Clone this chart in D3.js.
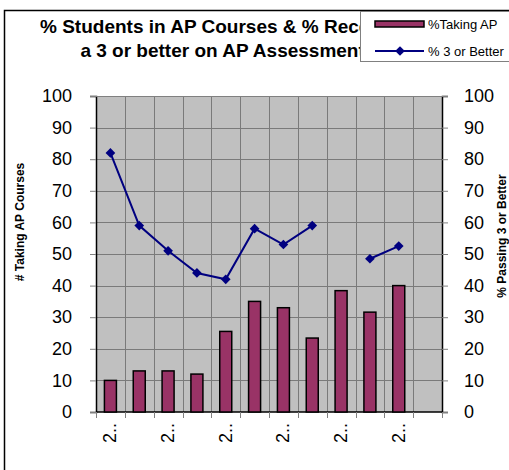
<!DOCTYPE html>
<html>
<head>
<meta charset="utf-8">
<script src="https://cdn.jsdelivr.net/npm/d3@7/dist/d3.min.js"></script>
<style>
  body { margin: 0; background: #fff; }
  svg { display: block; font-family: Arial, "Liberation Sans", sans-serif; }
</style>
</head>
<body>
<svg id="chart" width="509" height="470"></svg>
<script>
// categories (school years, labels are cut off in the original)
const categories = ['c1', 'c2', 'c3', 'c4', 'c5', 'c6', 'c7', 'c8', 'c9', 'c10', 'c11', 'c12']
const tickLabels = ['2..', '', '2..', '', '2..', '', '2..', '', '2..', '', '2..', '']
const takingAP = [10, 13, 13, 12, 25.5, 35, 33, 23.4, 38.4, 31.6, 40, null]
const passing3 = [82, 59, 51, 44, 42, 58, 53, 59, null, 48.5, 52.5, null]
const yTicks = [0, 10, 20, 30, 40, 50, 60, 70, 80, 90, 100]

const svg = d3.select('#chart')
const plot = { left: 96, right: 442, top: 96, bottom: 412 }

const x = d3.scaleBand().domain(categories).range([plot.left, plot.right])
const y = d3.scaleLinear().domain([0, 100]).range([plot.bottom, plot.top])

// outer frame
svg.append('rect')
  .attr('x', 4.5).attr('y', 10.5)
  .attr('width', 520).attr('height', 480)
  .style('fill', '#fff').style('stroke', '#000').style('stroke-width', 1.5)

// title
const title = svg.append('g').style('font-weight', 'bold').style('font-size', '19px')
const t1 = title.append('text').attr('x', 40).attr('y', 33).text('% Students in AP Courses & % Receiving')
const w1 = t1.node().getComputedTextLength()
const cx = 40 + w1 / 2
t1.attr('x', cx).attr('text-anchor', 'middle')
title.append('text').attr('x', cx + 1).attr('y', 57).attr('text-anchor', 'middle')
  .text('a 3 or better on AP Assessments')

// plot background
svg.append('rect')
  .attr('x', plot.left).attr('y', plot.top)
  .attr('width', plot.right - plot.left).attr('height', plot.bottom - plot.top)
  .style('fill', '#c0c0c0')

// gridlines
svg.append('g').selectAll('line').data(yTicks.slice(1))
  .join('line')
  .attr('x1', plot.left).attr('x2', plot.right)
  .attr('y1', d => Math.round(y(d)) + 0.5).attr('y2', d => Math.round(y(d)) + 0.5)
  .style('stroke', '#7a7a7a').style('stroke-width', 1)

svg.append('g').selectAll('line').data(categories.slice(1))
  .join('line')
  .attr('x1', d => Math.round(x(d)) + 0.5).attr('x2', d => Math.round(x(d)) + 0.5)
  .attr('y1', plot.top).attr('y2', plot.bottom)
  .style('stroke', '#7a7a7a').style('stroke-width', 1)

// axes
const leftAxis = svg.append('g')
  .attr('transform', `translate(${plot.left},0)`)
  .call(d3.axisLeft(y).tickValues(yTicks).tickSize(6).tickPadding(18))
const rightAxis = svg.append('g')
  .attr('transform', `translate(${plot.right},0)`)
  .call(d3.axisRight(y).tickValues(yTicks).tickSize(6).tickPadding(16))
for (const ax of [leftAxis, rightAxis]) {
  ax.select('.domain').style('stroke', '#000').style('stroke-width', 1.5)
  ax.selectAll('.tick line').style('stroke', '#808080')
  ax.selectAll('.tick text').style('font-size', '18px').style('fill', '#000')
    .style('font-family', 'Arial, "Liberation Sans", sans-serif')
}

// x axis: ticks at category boundaries
const bottomAxis = svg.append('g')
  .attr('transform', `translate(0,${plot.bottom})`)
bottomAxis.append('line')
  .attr('x1', plot.left).attr('x2', plot.right)
  .attr('y1', 0).attr('y2', 0)
  .style('stroke', '#000').style('stroke-width', 1.5)
bottomAxis.selectAll('.xtick').data(categories.concat(['end']))
  .join('line')
  .attr('class', 'xtick')
  .attr('x1', (d, i) => Math.round(plot.left + i * x.step()) + 0.5)
  .attr('x2', (d, i) => Math.round(plot.left + i * x.step()) + 0.5)
  .attr('y1', 0).attr('y2', 6)
  .style('stroke', '#808080')
bottomAxis.selectAll('.xlabel').data(categories)
  .join('text')
  .attr('class', 'xlabel')
  .attr('transform', d => `translate(${x(d) + x.bandwidth() / 2 + 6},11) rotate(-90)`)
  .attr('text-anchor', 'end')
  .style('font-size', '18px')
  .text((d, i) => tickLabels[i])

// gray top border of plot
svg.append('line')
  .attr('x1', plot.left).attr('x2', plot.right)
  .attr('y1', plot.top + 0.5).attr('y2', plot.top + 0.5)
  .style('stroke', '#808080')

// bars
const barW = 12
svg.append('g').selectAll('rect')
  .data(categories.map((c, i) => ({ c, v: takingAP[i] })).filter(d => d.v != null))
  .join('rect')
  .attr('x', d => x(d.c) + x.bandwidth() / 2 - barW / 2)
  .attr('y', d => y(d.v))
  .attr('width', barW)
  .attr('height', d => y(0) - y(d.v))
  .style('fill', '#993366').style('stroke', '#000').style('stroke-width', 1.5)

// line
const pts = categories.map((c, i) => ({ c, v: passing3[i] }))
const line = d3.line()
  .defined(d => d.v != null)
  .x(d => x(d.c) + x.bandwidth() / 2)
  .y(d => y(d.v))
svg.append('path')
  .datum(pts)
  .attr('d', line)
  .style('fill', 'none').style('stroke', '#000080').style('stroke-width', 2)

const diamond = d3.symbol().type(d3.symbolDiamond2).size(60)
svg.append('g').selectAll('path')
  .data(pts.filter(d => d.v != null))
  .join('path')
  .attr('transform', d => `translate(${x(d.c) + x.bandwidth() / 2},${y(d.v)})`)
  .attr('d', diamond)
  .style('fill', '#000080')

// axis titles
svg.append('text')
  .attr('transform', 'translate(24,222) rotate(-90)')
  .attr('text-anchor', 'middle')
  .style('font-size', '12px').style('font-weight', 'bold')
  .text('# Taking AP Courses')
svg.append('text')
  .attr('transform', 'translate(506,236) rotate(-90)')
  .attr('text-anchor', 'middle')
  .style('font-size', '12px').style('font-weight', 'bold')
  .text('% Passing 3 or Better')

// legend
const legend = svg.append('g')
legend.append('rect')
  .attr('x', 360.5).attr('y', 11.5)
  .attr('width', 170).attr('height', 50)
  .style('fill', '#fff').style('stroke', '#808080').style('stroke-width', 1)
legend.append('rect')
  .attr('x', 375).attr('y', 21).attr('width', 49).attr('height', 6)
  .style('fill', '#993366').style('stroke', '#000').style('stroke-width', 1.5)
legend.append('text').attr('x', 428).attr('y', 29)
  .style('font-size', '13px').text('%Taking AP')
legend.append('line')
  .attr('x1', 375).attr('x2', 424).attr('y1', 51).attr('y2', 51)
  .style('stroke', '#000080').style('stroke-width', 2)
legend.append('path')
  .attr('transform', 'translate(400,51)')
  .attr('d', diamond)
  .style('fill', '#000080')
legend.append('text').attr('x', 428).attr('y', 56)
  .style('font-size', '13px').text('% 3 or Better')
</script>
</body>
</html>
